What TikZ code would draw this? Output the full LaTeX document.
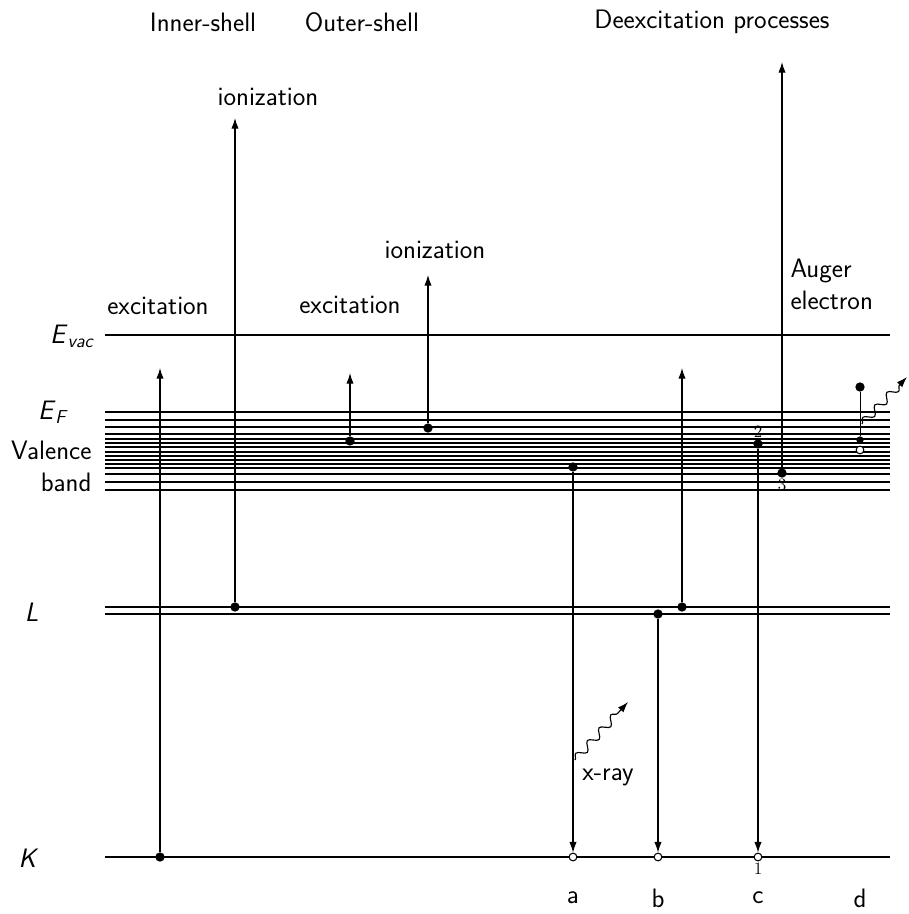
\documentclass[tikz,border=0pt]{standalone}
\usetikzlibrary{arrows.meta,decorations.pathmorphing}
\renewcommand{\familydefault}{\sfdefault}
\begin{document}
\tikzset{every picture/.style={line width=0.75pt}}

\begin{tikzpicture}[x=0.75pt,y=0.75pt,yscale=-1,xscale=1,
  lvl/.style={line width=1.1pt},
  trans/.style={line width=0.85pt,-{Latex[length=8pt,width=5.5pt]}},
  dot/.style={circle,fill,inner sep=0pt,minimum size=7pt},
  hole/.style={circle,draw,fill=white,inner sep=0pt,minimum size=5.8pt,line width=0.8pt},
  lab/.style={font=\fontsize{20}{24}\selectfont\sffamily,inner sep=0.75pt},
  num/.style={font=\fontsize{13}{14}\selectfont\rmfamily,inner sep=0.5pt},
  xray/.style={line width=0.85pt,decorate,decoration={snake,amplitude=3pt,segment length=13pt,post length=6pt},-{Latex[length=8pt,width=5.5pt]}}]
\useasboundingbox (0,0) rectangle (909,914);

%Levels: vacuum, valence band, L, K
\draw [lvl] (105,335) -- (890,335) ;
\foreach \y in {412,420,427,434,439,443,447,452,456,460,464,468,474,482,490}
  \draw [lvl] (105,\y) -- (890,\y) ;
\draw [lvl] (105,607) -- (890,607) ;
\draw [lvl] (105,614) -- (890,614) ;
\draw [lvl] (105,857) -- (890,857) ;

%Inner-shell excitation and ionization
\node [dot] (ie0) at (160,857) {};
\coordinate (ie1) at (160,368);
\draw [trans] (ie0) -- (ie1) ;
\node [dot] (ii0) at (235,607) {};
\coordinate (ii1) at (235,118);
\draw [trans] (ii0) -- (ii1) ;

%Outer-shell excitation and ionization
\node [dot] (oe0) at (350,441) {};
\coordinate (oe1) at (350,373);
\draw [trans] (oe0) -- (oe1) ;
\node [dot] (oi0) at (428,428) {};
\coordinate (oi1) at (428,275);
\draw [trans] (oi0) -- (oi1) ;

%Process a
\node [dot] (a0) at (573,467) {};
\node [hole] (a1) at (573,857) {};
\draw [trans] (a0) -- (a1) ;
\coordinate (xa0) at (575,760);
\coordinate (xa1) at (628,702);
\draw [xray] (xa0) -- (xa1) ;

%Process b
\node [dot] (b0) at (658,614) {};
\node [hole] (b1) at (658,857) {};
\draw [trans] (b0) -- (b1) ;
\node [dot] (b2) at (682,607) {};
\coordinate (b3) at (682,368);
\draw [trans] (b2) -- (b3) ;

%Process c
\node [dot] (c2) at (758,444) {};
\node [hole] (c1) at (758,857) {};
\draw [trans] (c2) -- (c1) ;
\node [dot] (c3) at (782,473) {};
\coordinate (c4) at (782,62);
\draw [trans] (c3) -- (c4) ;
\node [num,anchor=south] (n2) at (c2.north) {2};
\node [num,anchor=north] (n1) at (c1.south) {1};
\node [num,anchor=north] (n3) at (c3.south) {3};

%Process d
\node [dot] (d0) at (860,387) {};
\node [dot,minimum size=5.5pt] (d1) at (860,440) {};
\node [hole] (d2) at (860,450) {};
\draw (d0) -- (d1) ;
\coordinate (xd0) at (862,424);
\coordinate (xd1) at (907,377);
\draw [xray] (xd0) -- (xd1) ;

% Text Nodes
\node [lab] (tin) at (203,22) {Inner-shell};
\node [lab] (tout) at (362,22) {Outer-shell};
\node [lab] (tdex) at (712,22) {Deexcitation processes};
\node [lab] (tii) at (268,97) {ionization};
\node [lab] (tie) at (158,306) {excitation};
\node [lab] (toe) at (350,305) {excitation};
\node [lab] (toi) at (435,250) {ionization};
\node [lab,anchor=west,align=left] (taug) at (789,284) {Auger\\electron};
\node [lab] (txr) at (608,777) {x-ray};
\node [lab,anchor=east] (tvac) at (96,336) {\textit{E}\textsubscript{\textit{vac}}};
\node [lab,anchor=east] (tef) at (70,412) {\textit{E}\textsubscript{\textit{F}}};
\node [lab,anchor=east,align=right] (tvb) at (93,466) {Valence\\band};
\node [lab,anchor=east] (tl) at (40,612) {\textit{L}};
\node [lab,anchor=east] (tk) at (40,858) {\textit{K}};
\node [lab] (ta) at (573,898) {a};
\node [lab] (tb) at (658,898) {b};
\node [lab] (tc) at (758,898) {c};
\node [lab] (td) at (860,898) {d};

\end{tikzpicture}
\end{document}
